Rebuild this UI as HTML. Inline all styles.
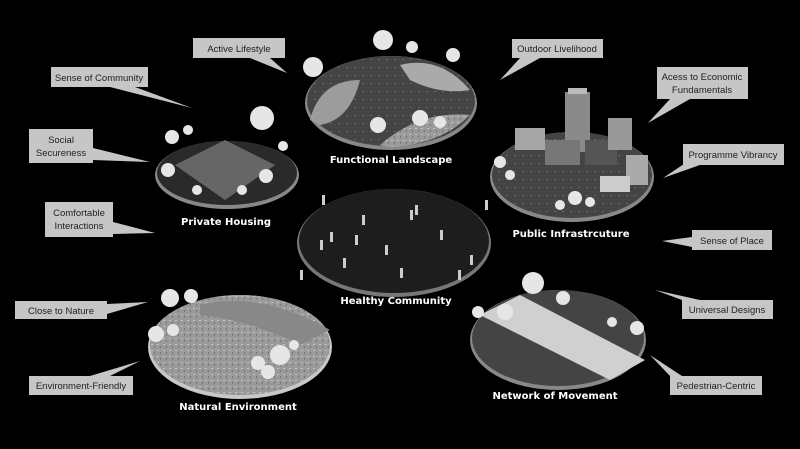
<!DOCTYPE html>
<html><head><style>
html,body{margin:0;padding:0;background:#000;}
svg{display:block}
.c{font-family:"Liberation Sans",sans-serif;font-size:9.5px;fill:#222;text-anchor:middle}
.l{font-family:"DejaVu Sans",sans-serif;font-size:10px;fill:#fff;text-anchor:middle;font-weight:bold}
</style></head><body>
<svg width="800" height="449" viewBox="0 0 800 449" xmlns="http://www.w3.org/2000/svg">
<defs>
<pattern id="tx" width="6" height="6" patternUnits="userSpaceOnUse">
<rect width="6" height="6" fill="#9a9a9a"/><rect x="1" y="2" width="2" height="1" fill="#c5c5c5"/><rect x="4" y="4" width="1" height="2" fill="#777"/>
</pattern>
<pattern id="dk" width="8" height="8" patternUnits="userSpaceOnUse">
<rect width="8" height="8" fill="#444"/><rect x="2" y="3" width="2" height="1" fill="#666"/>
</pattern>
</defs>
<rect width="800" height="449" fill="#000"/>
<g fill="#c6c6c6">
<rect x="193" y="38" width="92" height="20"/><polygon points="250,58 270,58 287,73"/>
<rect x="51" y="67" width="97" height="20"/><polygon points="110,87 135,87 192,108"/>
<rect x="29" y="129" width="64" height="34"/><polygon points="93,148 93,160 150,162"/>
<rect x="45" y="202" width="68" height="35"/><polygon points="113,222 113,234 155,233"/>
<rect x="15" y="301" width="92" height="18"/><polygon points="107,304 107,314 148,302"/>
<rect x="29" y="376" width="104" height="19"/><polygon points="90,376 110,376 140,361"/>
<rect x="512" y="39" width="91" height="19"/><polygon points="520,58 540,58 500,80"/>
<rect x="657" y="67" width="91" height="32"/><polygon points="670,99 690,99 648,123"/>
<rect x="683" y="144" width="101" height="21"/><polygon points="690,160 700,165 663,178"/>
<rect x="692" y="230" width="80" height="20"/><polygon points="692,237 692,247 662,241"/>
<rect x="682" y="300" width="91" height="19"/><polygon points="682,300 700,300 655,290"/>
<rect x="670" y="376" width="92" height="19"/><polygon points="670,376 682,376 650,355"/>
</g>
<g class="c">
<text x="239" y="52">Active Lifestyle</text>
<text x="99" y="81">Sense of Community</text>
<text x="61" y="143">Social</text><text x="61" y="156">Secureness</text>
<text x="79" y="216">Comfortable</text><text x="79" y="229">Interactions</text>
<text x="61" y="314">Close to Nature</text>
<text x="81" y="389">Environment-Friendly</text>
<text x="557" y="52">Outdoor Livelihood</text>
<text x="702" y="80">Acess to Economic</text><text x="702" y="93">Fundamentals</text>
<text x="733" y="158">Programme Vibrancy</text>
<text x="732" y="244">Sense of Place</text>
<text x="727" y="313">Universal Designs</text>
<text x="716" y="389">Pedestrian-Centric</text>
</g>
<ellipse cx="391" cy="103" rx="86" ry="47" fill="#888"/>
<ellipse cx="391" cy="101" rx="84" ry="45" fill="url(#dk)"/>
<path d="M310 120 Q320 80 360 80 Q350 120 320 125Z" fill="#9c9c9c"/>
<path d="M400 65 Q440 55 470 90 Q440 95 410 80Z" fill="#aaa"/>
<path d="M380 145 Q420 110 470 115 Q440 145 390 147Z" fill="url(#tx)"/>
<ellipse cx="227" cy="175" rx="72" ry="34" fill="#888"/>
<ellipse cx="227" cy="173" rx="70" ry="32" fill="#2a2a2a"/>
<polygon points="175,165 225,140 275,165 225,200" fill="#666"/>
<ellipse cx="572" cy="177" rx="82" ry="45" fill="#888"/>
<ellipse cx="572" cy="175" rx="80" ry="43" fill="url(#dk)"/>
<rect x="565" y="92" width="25" height="60" fill="#8a8a8a"/>
<rect x="568" y="88" width="19" height="6" fill="#bbb"/>
<rect x="515" y="128" width="30" height="22" fill="#a5a5a5"/>
<rect x="545" y="140" width="35" height="25" fill="#777"/>
<rect x="585" y="140" width="32" height="25" fill="#555"/>
<rect x="608" y="118" width="24" height="32" fill="#999"/>
<rect x="626" y="155" width="22" height="30" fill="#aaa"/>
<rect x="600" y="176" width="30" height="16" fill="#ccc"/>
<ellipse cx="394" cy="243" rx="97" ry="54" fill="#777"/>
<ellipse cx="394" cy="241" rx="95" ry="52" fill="#1d1d1d"/>
<ellipse cx="240" cy="347" rx="92" ry="52" fill="#c8c8c8"/>
<ellipse cx="240" cy="345" rx="90" ry="50" fill="url(#tx)"/>
<path d="M200 305 Q260 290 330 330 L300 345 Q250 320 200 315Z" fill="#888"/>
<ellipse cx="558" cy="340" rx="88" ry="50" fill="#888"/>
<ellipse cx="558" cy="338" rx="86" ry="48" fill="#444"/>
<polygon points="480,315 520,295 645,360 610,380" fill="#d0d0d0"/>
<g fill="#e6e6e6">
<circle cx="383" cy="40" r="10"/><circle cx="313" cy="67" r="10"/><circle cx="412" cy="47" r="6"/><circle cx="453" cy="55" r="7"/><circle cx="420" cy="118" r="8"/><circle cx="378" cy="125" r="8"/><circle cx="440" cy="122" r="6"/>
<circle cx="262" cy="118" r="12"/><circle cx="172" cy="137" r="7"/><circle cx="188" cy="130" r="5"/><circle cx="168" cy="170" r="7"/><circle cx="266" cy="176" r="7"/><circle cx="283" cy="146" r="5"/><circle cx="197" cy="190" r="5"/><circle cx="242" cy="190" r="5"/>
<circle cx="500" cy="162" r="6"/><circle cx="510" cy="175" r="5"/><circle cx="575" cy="198" r="7"/><circle cx="560" cy="205" r="5"/><circle cx="590" cy="202" r="5"/>
<circle cx="170" cy="298" r="9"/><circle cx="191" cy="296" r="7"/><circle cx="156" cy="334" r="8"/><circle cx="173" cy="330" r="6"/><circle cx="280" cy="355" r="10"/><circle cx="258" cy="363" r="7"/><circle cx="268" cy="372" r="7"/><circle cx="294" cy="345" r="5"/>
<circle cx="533" cy="283" r="11"/><circle cx="563" cy="298" r="7"/><circle cx="478" cy="312" r="6"/><circle cx="505" cy="312" r="8"/><circle cx="637" cy="328" r="7"/><circle cx="612" cy="322" r="5"/>
</g>
<g fill="#ccc">
<rect x="322" y="195" width="3" height="10"/><rect x="362" y="215" width="3" height="10"/><rect x="410" y="210" width="3" height="10"/><rect x="440" y="230" width="3" height="10"/><rect x="355" y="235" width="3" height="10"/><rect x="385" y="245" width="3" height="10"/><rect x="320" y="240" width="3" height="10"/><rect x="470" y="255" width="3" height="10"/><rect x="400" y="268" width="3" height="10"/><rect x="343" y="258" width="3" height="10"/><rect x="300" y="270" width="3" height="10"/><rect x="485" y="200" width="3" height="10"/><rect x="415" y="205" width="3" height="10"/><rect x="330" y="232" width="3" height="10"/><rect x="458" y="270" width="3" height="10"/>
</g>
<g class="l">
<text x="391" y="163">Functional Landscape</text>
<text x="226" y="225">Private Housing</text>
<text x="571" y="237">Public Infrastrcuture</text>
<text x="396" y="304">Healthy Community</text>
<text x="238" y="410">Natural Environment</text>
<text x="555" y="399">Network of Movement</text>
</g>
</svg>
</body></html>
